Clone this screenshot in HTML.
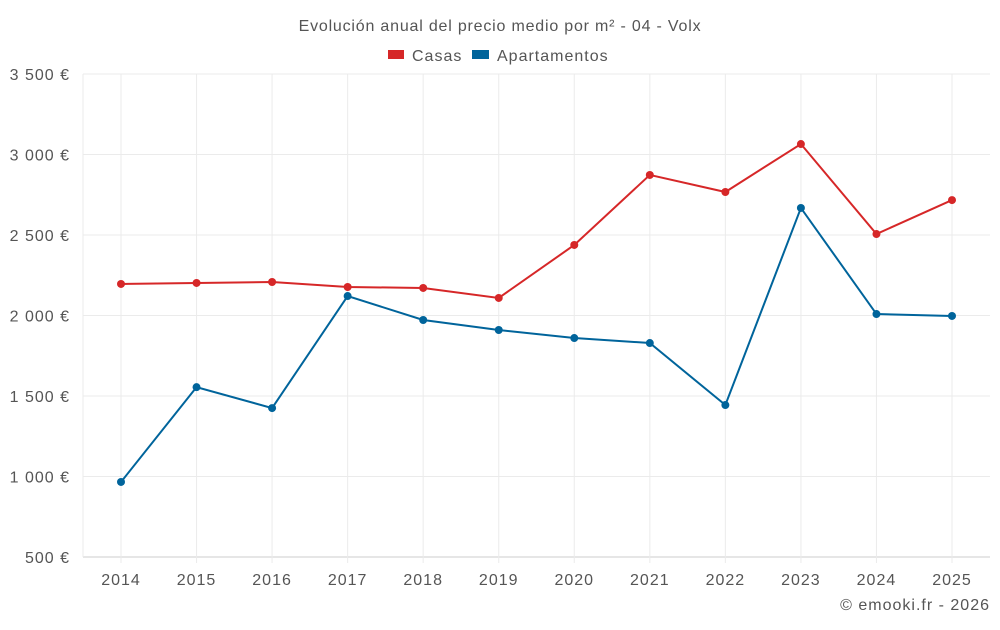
<!DOCTYPE html>
<html><head><meta charset="utf-8"><style>
body{margin:0;background:#fff;font-family:"Liberation Sans",sans-serif}
svg text{font-family:"Liberation Sans",sans-serif;fill:#555;letter-spacing:1px}
</style></head><body>
<svg id="chart" width="1000" height="625" xmlns="http://www.w3.org/2000/svg">
<text x="500" y="31" text-anchor="middle" font-size="16" style="letter-spacing:0.8px">Evolución anual del precio medio por m² - 04 - Volx</text>
<g><rect x="388" y="50" width="16" height="9" fill="#d62728"/><text x="412" y="61" font-size="16">Casas</text></g>
<g><rect x="472" y="50" width="17" height="9" fill="#00649b"/><text x="497" y="61" font-size="16">Apartamentos</text></g>
<g id="grid"></g><g id="axes"></g><g id="series"></g>
<text x="990" y="610" text-anchor="end" font-size="16">© emooki.fr - 2026</text>
</svg>
<script>
const years=[2014,2015,2016,2017,2018,2019,2020,2021,2022,2023,2024,2025];
const casas=[2196,2202,2208,2177,2171,2109,2438,2873,2767,3065,2506,2717];
const apartamentos=[966,1555,1425,2121,1972,1910,1860,1829,1444,2668,2009,1997];
const yTicks=[500,1000,1500,2000,2500,3000,3500];
const yLabels=["500 €","1 000 €","1 500 €","2 000 €","2 500 €","3 000 €","3 500 €"];
const NS="http://www.w3.org/2000/svg";
const L=83,R=990,T=74,B=557;
const x=i=>121+i*(952-121)/(years.length-1);
const y=v=>B-(v-500)/(3000)*(B-T);
function mk(tag,attrs,parent){const e=document.createElementNS(NS,tag);for(const k in attrs)e.setAttribute(k,attrs[k]);parent.appendChild(e);return e;}
const grid=document.getElementById('grid'),axes=document.getElementById('axes'),ser=document.getElementById('series');
yTicks.forEach((t,i)=>{
 const ln=mk('line',{x1:L,x2:R,y1:y(t),y2:y(t),stroke:i==0?'#ccc':'#ebebeb'},grid);
 
 
 const tx=mk('text',{x:70,y:y(t)+6,'text-anchor':'end','font-size':16},axes);
 tx.textContent=yLabels[i];
 
 
});
mk('line',{x1:L,x2:L,y1:T,y2:B,stroke:'#ebebeb'},grid);
years.forEach((yr,i)=>{
 const ln=mk('line',{x1:x(i),x2:x(i),y1:T,y2:B+6,stroke:'#ebebeb'},grid);
 
 
 const tx=mk('text',{x:x(i),y:585,'text-anchor':'middle','font-size':16},axes);
 tx.textContent=yr;
 
 
});
function draw(vals,color,name){
 const p=mk('polyline',{points:vals.map((v,i)=>x(i)+','+y(v)).join(' '),fill:'none',stroke:color,'stroke-width':2},ser);
 
 
 vals.forEach((v,i)=>{
  const c=mk('circle',{cx:x(i),cy:y(v),r:4,fill:color},ser);
  
  
 });
}
draw(casas,'#d62728','casas');
draw(apartamentos,'#00649b','apartamentos');
</script>
</body></html>
